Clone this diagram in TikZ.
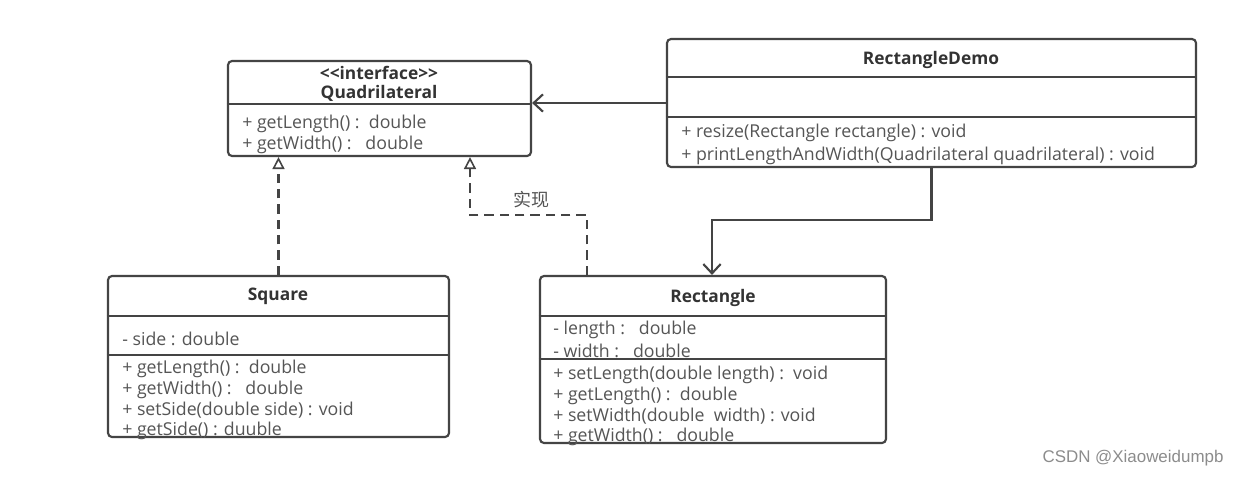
\documentclass[tikz,border=0pt]{standalone}
\usepackage{fontspec}
\setmainfont{Open Sans}
\newfontfamily\cjk{Noto Sans CJK SC}
\newfontfamily\wmfont{Liberation Sans}
\usetikzlibrary{arrows.meta,fit,calc}
\definecolor{linec}{HTML}{444444}
\definecolor{textc}{HTML}{555555}
\definecolor{headc}{HTML}{333333}
\tikzset{
  classbox/.style={draw=linec, line width=1.6pt, rounded corners=3pt, inner sep=0pt, fill=white},
  divider/.style={draw=linec, line width=1.4pt},
  member/.style={anchor=west, inner sep=0pt, yshift=-1.2pt, text=textc, font=\fontsize{13.3}{15}\selectfont},
  title/.style={inner sep=0pt, text=headc, font=\fontsize{13}{15}\selectfont\bfseries},
  assoc/.style={draw=linec, line width=1.6pt, -{Straight Barb[length=7pt,width=13pt,line width=1.6pt]}},
  realize/.style={draw=linec, line width=1.6pt, dash pattern=on 7pt off 4.5pt, -{Triangle[open,length=9pt,width=9pt,line width=1.2pt,fill=white]}},
  lbl/.style={inner sep=0pt, text=textc, font=\cjk\fontsize{13.5}{15}\selectfont},
  wm/.style={inner sep=0pt, text=black!45, font=\wmfont\fontsize{12.7}{15}\selectfont}
}
\begin{document}
\begin{tikzpicture}[x=0.75pt,y=-0.75pt]
\useasboundingbox[fill=white] (0,0) rectangle (1238,476);

% Quadrilateral
\node[classbox, fit={(228,61) (531,156)}] (quad) {};
\draw[divider] (quad.west |- 0,104) -- (quad.east |- 0,104);
\node[title] (qt1) at (379,73) {<{}<interface>{}>};
\node[title] (qt2) at (379,93) {Quadrilateral};
\node[member] (qm1) at (242,122) {+ getLength() :~~double};
\node[member] (qm2) at (242,143) {+ getWidth() :~~~double};

% RectangleDemo
\node[classbox, fit={(667,39) (1196,167)}] (demo) {};
\draw[divider] (demo.west |- 0,77) -- (demo.east |- 0,77);
\draw[divider] (demo.west |- 0,117) -- (demo.east |- 0,117);
\node[title] (dt) at (931,60) {RectangleDemo};
\node[member] (dm1) at (681,131) {+ resize(Rectangle rectangle) : void};
\node[member] (dm2) at (681,154) {+ printLengthAndWidth(Quadrilateral quadrilateral) : void};

% Square
\node[classbox, fit={(108,276) (449,437)}] (square) {};
\draw[divider] (square.west |- 0,316) -- (square.east |- 0,316);
\draw[divider] (square.west |- 0,355) -- (square.east |- 0,355);
\node[title] (st) at (278,296) {Square};
\node[member] (sa1) at (122,337) {- side : double};
\node[member] (sm1) at (122,367) {+ getLength() :~~double};
\node[member] (sm2) at (122,388) {+ getWidth() :~~~double};
\node[member] (sm3) at (122,409) {+ setSide(double side) : void};
\node[member] (sm4) at (122,429) {+ getSide() : duuble};

% Rectangle
\node[classbox, fit={(540,276) (886,443)}] (rect) {};
\draw[divider] (rect.west |- 0,316) -- (rect.east |- 0,316);
\draw[divider] (rect.west |- 0,359) -- (rect.east |- 0,359);
\node[title] (rt) at (713,298) {Rectangle};
\node[member] (ra1) at (553,328) {- length :~~~double};
\node[member] (ra2) at (553,349) {- width :~~~double};
\node[member] (rm1) at (553,373) {+ setLength(double length) :~~void};
\node[member] (rm2) at (553,394) {+ getLength() :~~double};
\node[member] (rm3) at (553,415) {+ setWidth(double~~width) : void};
\node[member] (rm4) at (553,435) {+ getWidth() :~~~double};

% connectors
\draw[assoc] (demo.west) -- (demo.west -| quad.east);
\coordinate (b1) at (712,220);
\draw[assoc] (demo.south) |- (b1) -- (b1 |- rect.north);
\draw[realize] (square.north) -- (square.north |- quad.south);
\coordinate (r1) at (587,215);
\coordinate (r2) at (470,215);
\draw[realize] (r1 |- rect.north) -- (r1) -- (r2) -- (r2 |- quad.south);
\node[lbl] (impl) at (531,200) {实现};

% watermark
\node[wm] (mark) at (1133,458) {CSDN @Xiaoweidumpb};
\end{tikzpicture}
\end{document}
